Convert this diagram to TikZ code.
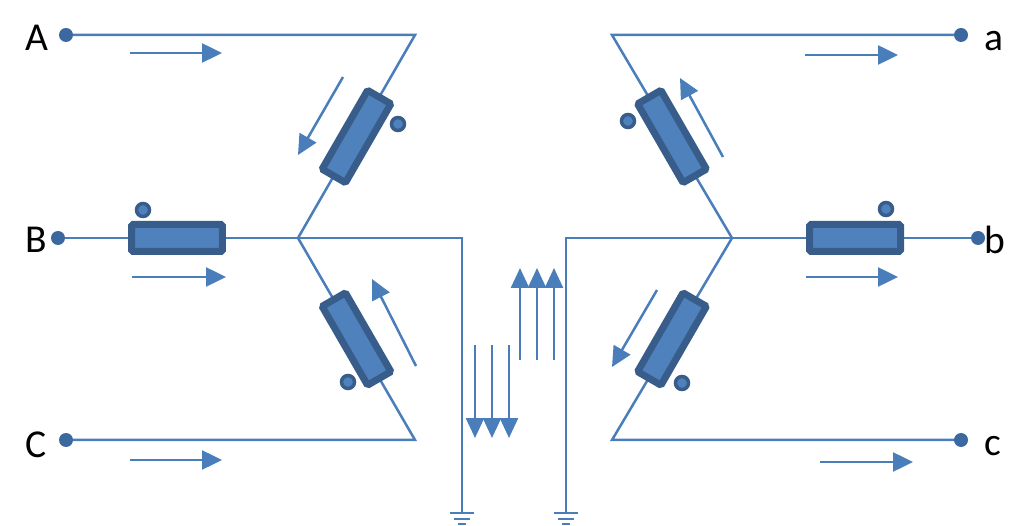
\documentclass[tikz,border=0pt]{standalone}
\usepackage{fontspec}
\setmainfont{Carlito}
\usetikzlibrary{arrows.meta,calc}
\definecolor{wire}{RGB}{74,126,187}
\definecolor{coil}{RGB}{79,129,189}
\definecolor{coilrim}{RGB}{56,93,138}
\definecolor{termblue}{RGB}{60,104,160}

\begin{document}
\begin{tikzpicture}[x=0.02cm,y=-0.02cm,
  wirel/.style={draw=wire,line width=0.05cm},
  winding/.style={draw=coilrim,fill=coil,line width=0.14cm,rounded corners=0.03cm,minimum width=1.82cm,minimum height=0.54cm,inner sep=0pt},
  polar/.style={circle,draw=coilrim,fill=coil,line width=0.07cm,minimum size=0.26cm,inner sep=0pt},
  term/.style={circle,fill=termblue,minimum size=0.28cm,inner sep=0pt},
  flow/.style={draw=wire,line width=0.05cm,-{Triangle[length=0.4cm,width=0.38cm]}},
  lbl/.style={font=\fontsize{22.5}{27}\selectfont,inner sep=0pt}]

\useasboundingbox (0,0) rectangle (1024,526);

% terminals, corners and star points
\coordinate (A) at (66,35);
\coordinate (B) at (58,238);
\coordinate (C) at (66,440);
\coordinate (a) at (961,35);
\coordinate (b) at (978,238);
\coordinate (c) at (961,440);
\coordinate (kA) at (415,35);
\coordinate (kC) at (415,440);
\coordinate (sL) at (298,238);
\coordinate (ka) at (612,35);
\coordinate (kc) at (612,440);
\coordinate (sR) at (732,238);
\coordinate (nL) at (462,238);
\coordinate (gL) at (462,513);
\coordinate (nR) at (566,238);
\coordinate (gR) at (566,513);

\draw[wirel] (A) -- (kA) -- (sL) -- (kC) -- (C);
\draw[wirel] (B) -- (sL) -- (nL) -- (gL);
\draw[wirel] (a) -- (ka) -- (sR) -- (kc) -- (c);
\draw[wirel] (b) -- (sR) -- (nR) -- (gR);

% earth
\foreach \g in {gL,gR} {
  \draw[wirel] ($(\g)+(-12,0)$) -- ($(\g)+(12,0)$);
  \draw[wirel] ($(\g)+(-8,6)$) -- ($(\g)+(8,6)$);
  \draw[wirel] ($(\g)+(-4,11)$) -- ($(\g)+(4,11)$);
}

% windings
\node[winding,rotate=60] (wA) at ($(sL)!0.5!(kA)$) {};
\node[winding,rotate=-60] (wC) at ($(sL)!0.5!(kC)$) {};
\node[winding] (wB) at (177,238) {};
\node[winding,rotate=-60] (wa) at ($(sR)!0.5!(ka)$) {};
\node[winding,rotate=60] (wc) at ($(sR)!0.5!(kc)$) {};
\node[winding] (wb) at (855,238) {};

\node[polar] (pA) at (398,124) {};
\node[polar] (pC) at (348,382) {};
\node[polar] (pB) at (143,210) {};
\node[polar] (pa) at (628,121) {};
\node[polar] (pc) at (682,383) {};
\node[polar] (pb) at (886,209) {};

\foreach \t in {A,B,C,a,b,c}
  \node[term] (t\t) at (\t) {};

\node[lbl] (lA) at (37,38) {A};
\node[lbl] (lB) at (36,240) {B};
\node[lbl] (lC) at (36,445) {C};
\node[lbl] (la) at (994,41) {a};
\node[lbl] (lb) at (995,240) {b};
\node[lbl] (lc) at (993,446) {c};

% current directions
\draw[flow] (130,53) -- (222,53);
\draw[flow] (132,277) -- (226,277);
\draw[flow] (130,460) -- (222,460);
\draw[flow] (343,77) -- (298,155);
\draw[flow] (416,366) -- (372,279);
\draw[flow] (805,55) -- (898,55);
\draw[flow] (806,277) -- (898,277);
\draw[flow] (820,462) -- (913,462);
\draw[flow] (723,157) -- (680,78);
\draw[flow] (657,290) -- (612,367);

\foreach \x in {475,492,509}
  \draw[flow,-{Triangle[length=0.4cm,width=0.36cm]}] (\x,345) -- (\x,438);
\foreach \x in {520,537,554}
  \draw[flow,-{Triangle[length=0.4cm,width=0.36cm]}] (\x,360) -- (\x,268);
\end{tikzpicture}
\end{document}
